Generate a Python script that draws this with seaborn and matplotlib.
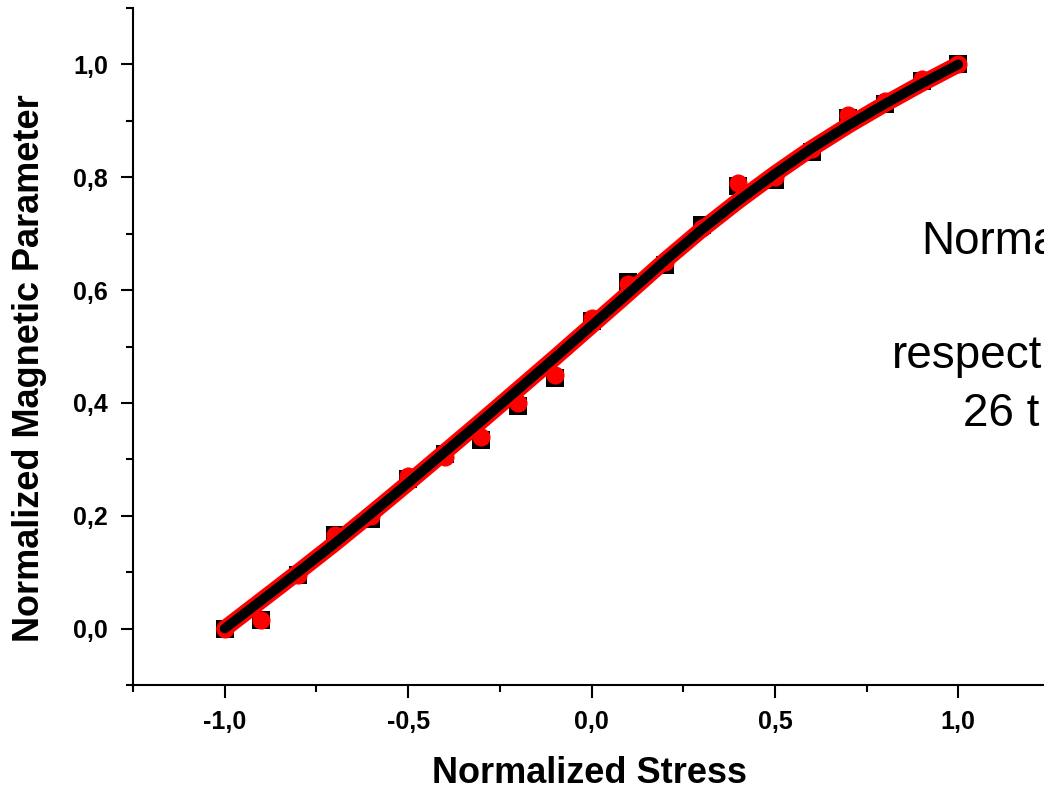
import matplotlib
matplotlib.use("Agg")
import matplotlib.pyplot as plt
import seaborn as sns
import pandas as pd
from matplotlib.ticker import MultipleLocator, FuncFormatter

# ---- data ----
stress = [-1.0, -0.9, -0.8, -0.7, -0.6, -0.5, -0.4, -0.3, -0.2, -0.1, 0.0,
          0.1, 0.2, 0.3, 0.4, 0.5, 0.6, 0.7, 0.8, 0.9, 1.0]
param_red = [0.0, 0.015, 0.095, 0.165, 0.20, 0.27, 0.305, 0.34, 0.40, 0.45, 0.55,
             0.61, 0.65, 0.71, 0.79, 0.80, 0.85, 0.91, 0.935, 0.975, 1.0]
param_black = [0.0, 0.015, 0.095, 0.165, 0.195, 0.265, 0.31, 0.335, 0.395, 0.445, 0.545,
               0.615, 0.645, 0.715, 0.785, 0.795, 0.845, 0.905, 0.93, 0.97, 1.0]
fit_x = [-1.0, -0.9, -0.8, -0.7, -0.6, -0.5, -0.4, -0.3, -0.2, -0.1, 0.0,
         0.1, 0.2, 0.3, 0.4, 0.5, 0.6, 0.7, 0.8, 0.9, 1.0]
fit_y = [0.0, 0.05, 0.10, 0.151, 0.204, 0.258, 0.313, 0.368, 0.424, 0.48, 0.537,
         0.594, 0.652, 0.707, 0.758, 0.806, 0.851, 0.892, 0.93, 0.966, 1.0]
side_texts = ["Norma", "respect", "26 t"]

df = pd.DataFrame({"x": stress, "red": param_red, "black": param_black})
fit = pd.DataFrame({"x": fit_x, "y": fit_y})

sns.set_theme(style="ticks")
plt.rcParams["font.family"] = ["Liberation Sans", "DejaVu Sans"]
plt.rcParams["text.color"] = "black"
plt.rcParams["axes.labelcolor"] = "black"
plt.rcParams["xtick.color"] = "black"
plt.rcParams["ytick.color"] = "black"

fig = plt.figure(figsize=(10.44, 7.93), dpi=100)
ax = fig.add_axes([133 / 1044, 1 - 685 / 793, (1050 - 133) / 1044, 677 / 793])

sns.scatterplot(data=df, x="x", y="black", ax=ax, marker="s", s=150, color="black",
                edgecolor="black", linewidth=0, zorder=2, legend=False)
sns.scatterplot(data=df, x="x", y="red", ax=ax, marker="o", s=170, color="red",
                edgecolor="red", linewidth=0, zorder=3, legend=False)
sns.lineplot(data=fit, x="x", y="y", ax=ax, color="red", linewidth=12,
             solid_capstyle="round", solid_joinstyle="round", zorder=4, legend=False)
sns.lineplot(data=fit, x="x", y="y", ax=ax, color="black", linewidth=7,
             solid_capstyle="round", solid_joinstyle="round", zorder=5, legend=False)

ax.set_xlim(-1.25, 1.25)
ax.set_ylim(-0.1, 1.1)
ax.xaxis.set_major_locator(MultipleLocator(0.5))
ax.xaxis.set_minor_locator(MultipleLocator(0.25))
ax.yaxis.set_major_locator(MultipleLocator(0.2))
ax.yaxis.set_minor_locator(MultipleLocator(0.1))
fmt = FuncFormatter(lambda v, p: f"{v:.1f}".replace(".", ",").replace("-0,0", "0,0"))
ax.xaxis.set_major_formatter(fmt)
ax.yaxis.set_major_formatter(fmt)

for side in ["top", "right"]:
    ax.spines[side].set_visible(False)
for side in ["left", "bottom"]:
    ax.spines[side].set_linewidth(1.5)
    ax.spines[side].set_color("black")

ax.tick_params(axis="both", which="major", direction="out", length=9, width=1.5,
               colors="black", labelsize=18, pad=9)
ax.tick_params(axis="both", which="minor", direction="out", length=5, width=1.5,
               colors="black")
for lbl in ax.get_xticklabels() + ax.get_yticklabels():
    lbl.set_fontweight("bold")

ax.set_xlabel("Normalized Stress", fontsize=26, fontweight="bold")
ax.set_ylabel("Normalized Magnetic Parameter", fontsize=26, fontweight="bold")
ax.xaxis.set_label_coords((590 - 133) / 917, -(756 - 685) / 677)
ax.yaxis.set_label_coords(-(133 - 47) / 917, (685 - 368) / 677)

fig.text(921 / 1044, 1 - 254 / 793, side_texts[0], fontsize=33, ha="left", va="baseline")
fig.text(892 / 1044, 1 - 368 / 793, side_texts[1], fontsize=33, ha="left", va="baseline")
fig.text(963 / 1044, 1 - 426 / 793, side_texts[2], fontsize=33, ha="left", va="baseline")

fig.savefig("out.png", dpi=100)
